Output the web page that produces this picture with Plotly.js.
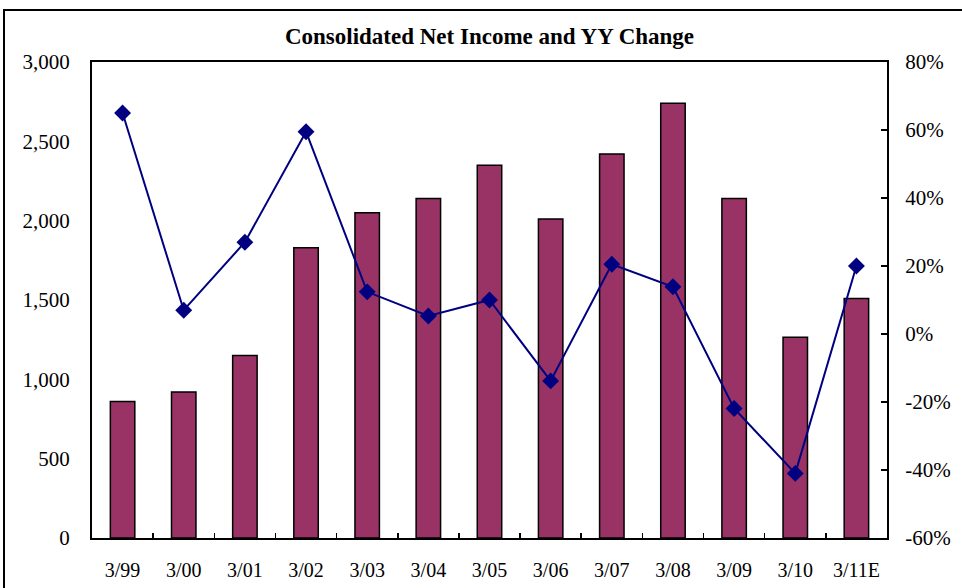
<!DOCTYPE html>
<html>
<head>
<meta charset="utf-8">
<script src="https://cdn.plot.ly/plotly-3.0.1.min.js"></script>
<style>
  html, body { margin: 0; padding: 0; background: #fff; }
  #chart { width: 962px; height: 588px; }
</style>
</head>
<body>
<div id="chart"></div>
<script>
var categories = ["3/99","3/00","3/01","3/02","3/03","3/04","3/05","3/06","3/07","3/08","3/09","3/10","3/11E"];
var netIncome = [860, 920, 1150, 1830, 2050, 2140, 2350, 2010, 2420, 2740, 2140, 1265, 1510];
var yyChange = [65, 7, 27, 59.5, 12.4, 5.3, 10, -13.8, 20.5, 13.9, -21.9, -41, 20];
var leftTicks = [0, 500, 1000, 1500, 2000, 2500, 3000];
var leftTickText = ["0", "500", "1,000", "1,500", "2,000", "2,500", "3,000"];
var rightTicks = [-60, -40, -20, 0, 20, 40, 60, 80];
var rightTickText = ["-60%", "-40%", "-20%", "0%", "20%", "40%", "60%", "80%"];

var fam = "Liberation Serif, Times New Roman, serif";
var yfont = {family: fam, size: 21, color: "#000"};
var xfont = {family: fam, size: 20, color: "#000"};

var traces = [
  {
    type: "bar",
    x: categories,
    y: netIncome,
    width: 0.4,
    marker: {color: "#993366", line: {color: "#000", width: 1.5}},
    yaxis: "y"
  },
  {
    type: "scatter",
    mode: "lines+markers",
    x: categories,
    y: yyChange,
    yaxis: "y2",
    line: {color: "#000080", width: 2},
    marker: {symbol: "diamond", size: 13, color: "#000080"}
  }
];

var layout = {
  width: 962,
  height: 588,
  margin: {l: 92, r: 75, t: 62, b: 50},
  paper_bgcolor: "#fff",
  plot_bgcolor: "#fff",
  showlegend: false,
  font: yfont,
  title: {
    text: "<b>Consolidated Net Income and YY Change</b>",
    font: {family: fam, size: 23, color: "#000"},
    x: 0.5, xref: "paper", xanchor: "center",
    y: 552/588, yref: "container", yanchor: "middle"
  },
  xaxis: {
    type: "category",
    range: [-0.5, 12.5],
    autorange: false,
    showline: true, linecolor: "#000", linewidth: 2, mirror: true,
    ticks: "inside", ticklen: 5, tickcolor: "#000", tickwidth: 1.5,
    tickson: "boundaries",
    showgrid: false, zeroline: false,
    ticklabelstandoff: 13,
    tickfont: xfont
  },
  yaxis: {
    range: [0, 3000],
    tickvals: leftTicks,
    ticktext: leftTickText,
    showline: true, linecolor: "#000", linewidth: 2,
    ticks: "", showgrid: false, zeroline: false,
    ticklabelstandoff: 16,
    tickfont: yfont
  },
  yaxis2: {
    overlaying: "y",
    side: "right",
    range: [-60, 80],
    tickvals: rightTicks,
    ticktext: rightTickText,
    showline: true, linecolor: "#000", linewidth: 2,
    ticks: "inside", ticklen: 6, tickcolor: "#000", tickwidth: 1.5,
    showgrid: false, zeroline: false,
    ticklabelstandoff: 12,
    tickfont: yfont
  },
  shapes: [
    {
      type: "rect", xref: "paper", yref: "paper",
      x0: (4 - 92) / 795, x1: 1.3,
      y0: -0.3, y1: (538 - 10) / 476,
      line: {color: "#000", width: 2},
      fillcolor: "rgba(0,0,0,0)",
      layer: "below"
    }
  ]
};

Plotly.newPlot("chart", traces, layout, {displayModeBar: false, staticPlot: true});
</script>
</body>
</html>
